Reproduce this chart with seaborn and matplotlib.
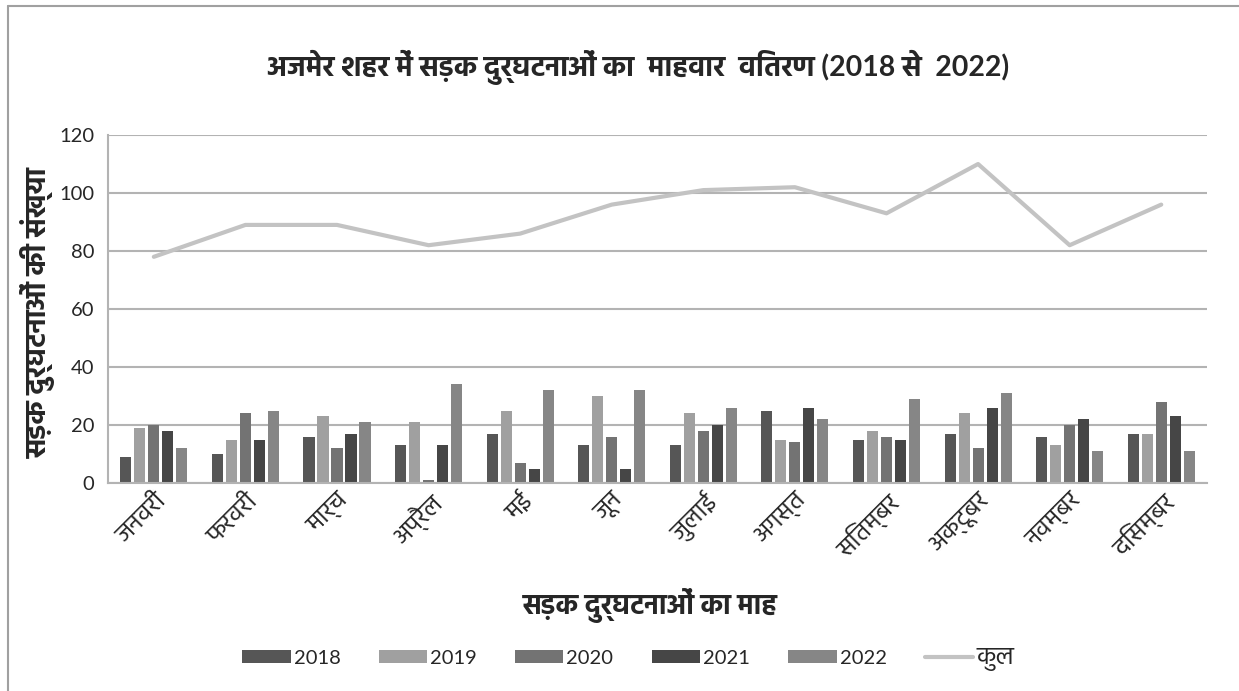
import numpy as np
import pandas as pd
import matplotlib
matplotlib.use("Agg")
import matplotlib.pyplot as plt
from matplotlib import font_manager
from matplotlib.patches import Patch
from matplotlib.lines import Line2D
import seaborn as sns

# ---------------- data ----------------
months = ["जनवरी", "फरवरी", "मार्च", "अप्रैल", "मई", "जून",
          "जुलाई", "अगस्त", "सितम्बर", "अक्टूबर", "नवम्बर", "दिसम्बर"]
years = ["2018", "2019", "2020", "2021", "2022"]
v2018 = [9, 10, 16, 13, 17, 13, 13, 25, 15, 17, 16, 17]
v2019 = [19, 15, 23, 21, 25, 30, 24, 15, 18, 24, 13, 17]
v2020 = [20, 24, 12, 1, 7, 16, 18, 14, 16, 12, 20, 28]
v2021 = [18, 15, 17, 13, 5, 5, 20, 26, 15, 26, 22, 23]
v2022 = [12, 25, 21, 34, 32, 32, 26, 22, 29, 31, 11, 11]
totals = [78, 89, 89, 82, 86, 96, 101, 102, 93, 110, 82, 96]
total_label = "कुल"
title = "अजमेर शहर में सड़क दुर्घटनाओं का  माहवार  वितरण (2018 से  2022)"
xlabel = "सड़क दुर्घटनाओं का माह"
ylabel = "सड़क दुर्घटनाओं की संख्या"
yticks = [0, 20, 40, 60, 80, 100, 120]

# ---------------- fonts ----------------
sns.set_theme(style="white")
available = {f.name for f in font_manager.fontManager.ttflist}
dev_font = None
for cand in ["Hind", "Mukta", "Noto Sans Devanagari", "Yantramanav",
             "Martel Sans", "Poppins"]:
    if cand in available:
        dev_font = cand
        break
latin = "Lato" if "Lato" in available else "DejaVu Sans"
families = [latin] + ([dev_font] if dev_font else []) + ["DejaVu Sans"]
plt.rcParams["font.family"] = families

# ---------------- long table ----------------
series = [v2018, v2019, v2020, v2021, v2022]
rows = []
for y, vals in zip(years, series):
    for m, v in zip(months, vals):
        rows.append({"month": m, "year": y, "value": v})
df = pd.DataFrame(rows)

colors = ["#565656", "#a0a0a0", "#737373", "#464646", "#868686"]
line_color = "#c3c3c3"
grid_color = "#b3b3b3"

fig = plt.figure(figsize=(12.39, 6.91), dpi=100)
ax = fig.add_axes([0.0872, 0.301, 0.887, 0.5036])

sns.barplot(data=df, x="month", y="value", hue="year", order=months,
            hue_order=years, palette=colors, width=0.764, gap=0.21,
            saturation=1, errorbar=None, linewidth=0, ax=ax, legend=False)
sns.lineplot(x=np.arange(len(months)), y=totals, color=line_color,
             linewidth=3, ax=ax, legend=False)

ax.set_xlim(-0.5, len(months) - 0.5)
ax.set_ylim(0, 120)
ax.set_yticks(yticks)
ax.set_yticklabels([str(t) for t in yticks], fontsize=14.5)
ax.yaxis.grid(True, color=grid_color, linewidth=1.5)
ax.set_axisbelow(True)
ax.set_xticks(np.arange(len(months)))
ax.set_xticklabels(months, rotation=45, ha="right", rotation_mode="anchor",
                   fontsize=18)
ax.tick_params(axis="y", length=0, pad=10)
ax.tick_params(axis="x", length=0, pad=4)
for s in ["top", "right"]:
    ax.spines[s].set_visible(False)
ax.spines["left"].set_color(grid_color)
ax.spines["left"].set_linewidth(1.5)
ax.spines["bottom"].set_color(grid_color)
ax.spines["bottom"].set_linewidth(1.5)
ax.set_xlabel("")
ax.set_ylabel("")

fig.text(0.515, 0.902, title, ha="center", va="center", fontsize=20.5,
         fontweight="bold")
fig.text(0.525, 0.124, xlabel, ha="center", va="center", fontsize=20,
         fontweight="bold")
fig.text(0.031, 0.548, ylabel, ha="center", va="center", fontsize=20.5,
         fontweight="bold", rotation=90)

handles = [Patch(facecolor=c, edgecolor="none") for c in colors]
handles.append(Line2D([0], [0], color=line_color, linewidth=3))
labels = years + [total_label]
leg = fig.legend(handles, labels, loc="center", bbox_to_anchor=(0.507, 0.048),
                 ncol=6, frameon=False, fontsize=14.5, handlelength=2.4,
                 handleheight=0.6, columnspacing=1.9, handletextpad=0.15)
leg.get_texts()[-1].set_fontsize(18)

# document frame
fig.add_artist(Line2D([0.0065, 0.0065], [0, 0.992], color="#a0a0a0",
                      linewidth=1.5, transform=fig.transFigure))
fig.add_artist(Line2D([0.0065, 1.0], [0.992, 0.992], color="#a0a0a0",
                      linewidth=1.5, transform=fig.transFigure))

fig.savefig("out.png", dpi=100)
